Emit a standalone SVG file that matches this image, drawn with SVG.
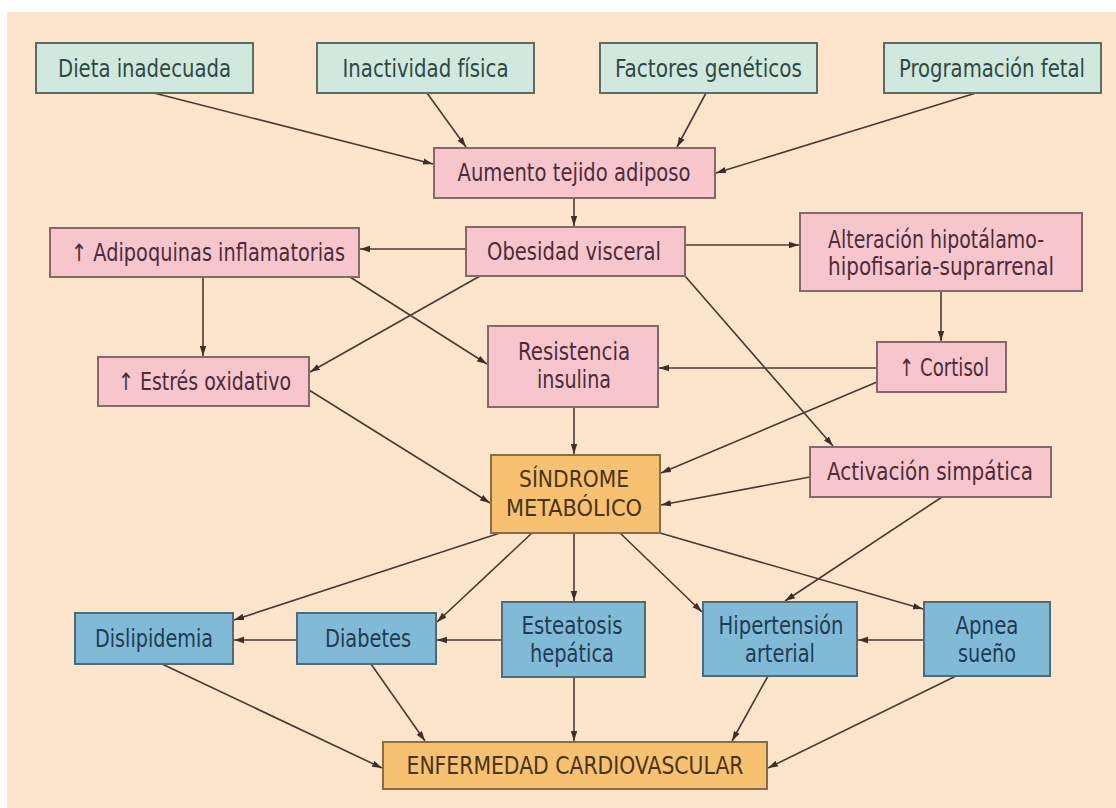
<svg xmlns="http://www.w3.org/2000/svg" width="1116" height="808" viewBox="0 0 1116 808">
<defs>
<style>
.bg{fill:#FDE5CB}
rect.g{fill:#D1E8DF;stroke:#5E6C63;stroke-width:2}
rect.p{fill:#F6C6CC;stroke:#86676C;stroke-width:2}
rect.o{fill:#F7C172;stroke:#8A6C3E;stroke-width:2}
rect.b{fill:#80BAD7;stroke:#4F6A7A;stroke-width:2}
text{font-family:"Liberation Sans Narrow","DejaVu Sans Condensed","Liberation Sans",sans-serif;font-size:24px;text-anchor:middle}
text.g{fill:#2E4A42}
text.p{fill:#4E2B38}
text.o{fill:#4A3414}
text.b{fill:#1F3B56}
.c line{stroke:#4B3A32;stroke-width:1.6;fill:none;marker-end:url(#ah)}
</style>
<marker id="ah" markerWidth="11" markerHeight="8" refX="10" refY="4" orient="auto" markerUnits="userSpaceOnUse">
<path d="M0,0.8 L10,4 L0,7.2 Z" fill="#3E2E26"/>
</marker>
</defs>
<rect x="0" y="0" width="1116" height="808" fill="#FFFFFF"/>
<rect class="bg" x="7" y="12" width="1109" height="796"/>

<g class="c" id="connectors">
<line x1="154" y1="93" x2="433" y2="164"/>
<line x1="427" y1="93" x2="466" y2="147"/>
<line x1="706" y1="93" x2="677" y2="147"/>
<line x1="976" y1="93" x2="716" y2="173"/>
<line x1="574" y1="198" x2="574" y2="226"/>
<line x1="466" y1="249" x2="360" y2="249"/>
<line x1="685" y1="245" x2="799" y2="245"/>
<line x1="480" y1="276" x2="310" y2="372"/>
<line x1="203" y1="277" x2="203" y2="356"/>
<line x1="350" y1="277" x2="487" y2="364"/>
<line x1="685" y1="276" x2="833" y2="446"/>
<line x1="941" y1="291" x2="941" y2="341"/>
<line x1="877" y1="368" x2="659" y2="368"/>
<line x1="877" y1="382" x2="661" y2="473"/>
<line x1="574" y1="407" x2="574" y2="454"/>
<line x1="309" y1="390" x2="490" y2="503"/>
<line x1="810" y1="477" x2="661" y2="505"/>
<line x1="500" y1="533" x2="234" y2="620"/>
<line x1="532" y1="533" x2="437" y2="622"/>
<line x1="574" y1="533" x2="574" y2="601"/>
<line x1="620" y1="533" x2="702" y2="612"/>
<line x1="660" y1="533" x2="923" y2="609"/>
<line x1="942" y1="497" x2="785" y2="601"/>
<line x1="297" y1="640" x2="234" y2="640"/>
<line x1="502" y1="640" x2="437" y2="640"/>
<line x1="924" y1="640" x2="858" y2="640"/>
<line x1="162" y1="664" x2="382" y2="768"/>
<line x1="371" y1="664" x2="425" y2="741"/>
<line x1="574" y1="677" x2="574" y2="741"/>
<line x1="768" y1="676" x2="732" y2="741"/>
<line x1="956" y1="676" x2="768" y2="768"/>
</g>

<g id="dieta"><rect class="g" x="36" y="43" width="217" height="50"/><text class="g" x="144.5" y="77" textLength="173" lengthAdjust="spacingAndGlyphs">Dieta inadecuada</text></g>
<g id="inactividad"><rect class="g" x="317" y="43" width="217" height="50"/><text class="g" x="425.5" y="77" textLength="166" lengthAdjust="spacingAndGlyphs">Inactividad física</text></g>
<g id="factores"><rect class="g" x="600" y="43" width="217" height="50"/><text class="g" x="708.5" y="77" textLength="187" lengthAdjust="spacingAndGlyphs">Factores genéticos</text></g>
<g id="programacion"><rect class="g" x="884" y="43" width="217" height="50"/><text class="g" x="992" y="77" textLength="186" lengthAdjust="spacingAndGlyphs">Programación fetal</text></g>

<g id="aumento"><rect class="p" x="434" y="148" width="281" height="50"/><text class="p" x="574" y="181" textLength="233" lengthAdjust="spacingAndGlyphs">Aumento tejido adiposo</text></g>
<g id="obesidad"><rect class="p" x="466" y="227" width="219" height="49"/><text class="p" x="574" y="260" textLength="174" lengthAdjust="spacingAndGlyphs">Obesidad visceral</text></g>
<g id="adipoquinas"><rect class="p" x="50" y="228" width="309" height="49"/><text class="p" x="208" y="261" textLength="274" lengthAdjust="spacingAndGlyphs">↑ Adipoquinas inflamatorias</text></g>
<g id="alteracion"><rect class="p" x="800" y="213" width="282" height="78"/><text class="p" x="936" y="248" textLength="216" lengthAdjust="spacingAndGlyphs">Alteración hipotálamo-</text><text class="p" x="941" y="275" textLength="226" lengthAdjust="spacingAndGlyphs">hipofisaria-suprarrenal</text></g>
<g id="estres"><rect class="p" x="98" y="357" width="211" height="49"/><text class="p" x="204.5" y="390" textLength="173" lengthAdjust="spacingAndGlyphs">↑ Estrés oxidativo</text></g>
<g id="resistencia"><rect class="p" x="488" y="326" width="170" height="81"/><text class="p" x="574" y="360" textLength="112" lengthAdjust="spacingAndGlyphs">Resistencia</text><text class="p" x="574" y="388" textLength="74" lengthAdjust="spacingAndGlyphs">insulina</text></g>
<g id="cortisol"><rect class="p" x="877" y="342" width="129" height="50"/><text class="p" x="944" y="376" textLength="90" lengthAdjust="spacingAndGlyphs">↑ Cortisol</text></g>
<g id="activacion"><rect class="p" x="810" y="447" width="241" height="50"/><text class="p" x="930" y="480" textLength="206" lengthAdjust="spacingAndGlyphs">Activación simpática</text></g>

<g id="sindrome"><rect class="o" x="491" y="455" width="169" height="78"/><text class="o" x="574" y="487" textLength="110" lengthAdjust="spacingAndGlyphs" style="font-size:23px">SÍNDROME</text><text class="o" x="574" y="516" textLength="136" lengthAdjust="spacingAndGlyphs" style="font-size:23px">METABÓLICO</text></g>

<g id="dislipidemia"><rect class="b" x="75" y="613" width="158" height="51"/><text class="b" x="154" y="647" textLength="118" lengthAdjust="spacingAndGlyphs">Dislipidemia</text></g>
<g id="diabetes"><rect class="b" x="297" y="613" width="139" height="51"/><text class="b" x="368" y="647" textLength="86" lengthAdjust="spacingAndGlyphs">Diabetes</text></g>
<g id="esteatosis"><rect class="b" x="502" y="602" width="143" height="75"/><text class="b" x="572" y="634" textLength="101" lengthAdjust="spacingAndGlyphs">Esteatosis</text><text class="b" x="572" y="662" textLength="84" lengthAdjust="spacingAndGlyphs">hepática</text></g>
<g id="hipertension"><rect class="b" x="703" y="602" width="154" height="74"/><text class="b" x="781" y="634" textLength="125" lengthAdjust="spacingAndGlyphs">Hipertensión</text><text class="b" x="780" y="662" textLength="70" lengthAdjust="spacingAndGlyphs">arterial</text></g>
<g id="apnea"><rect class="b" x="924" y="602" width="126" height="74"/><text class="b" x="987" y="634" textLength="63" lengthAdjust="spacingAndGlyphs">Apnea</text><text class="b" x="987" y="662" textLength="58" lengthAdjust="spacingAndGlyphs">sueño</text></g>

<g id="enfermedad"><rect class="o" x="383" y="742" width="384" height="47"/><text class="o" x="575" y="774" textLength="337" lengthAdjust="spacingAndGlyphs" style="font-size:25px">ENFERMEDAD CARDIOVASCULAR</text></g>
</svg>
